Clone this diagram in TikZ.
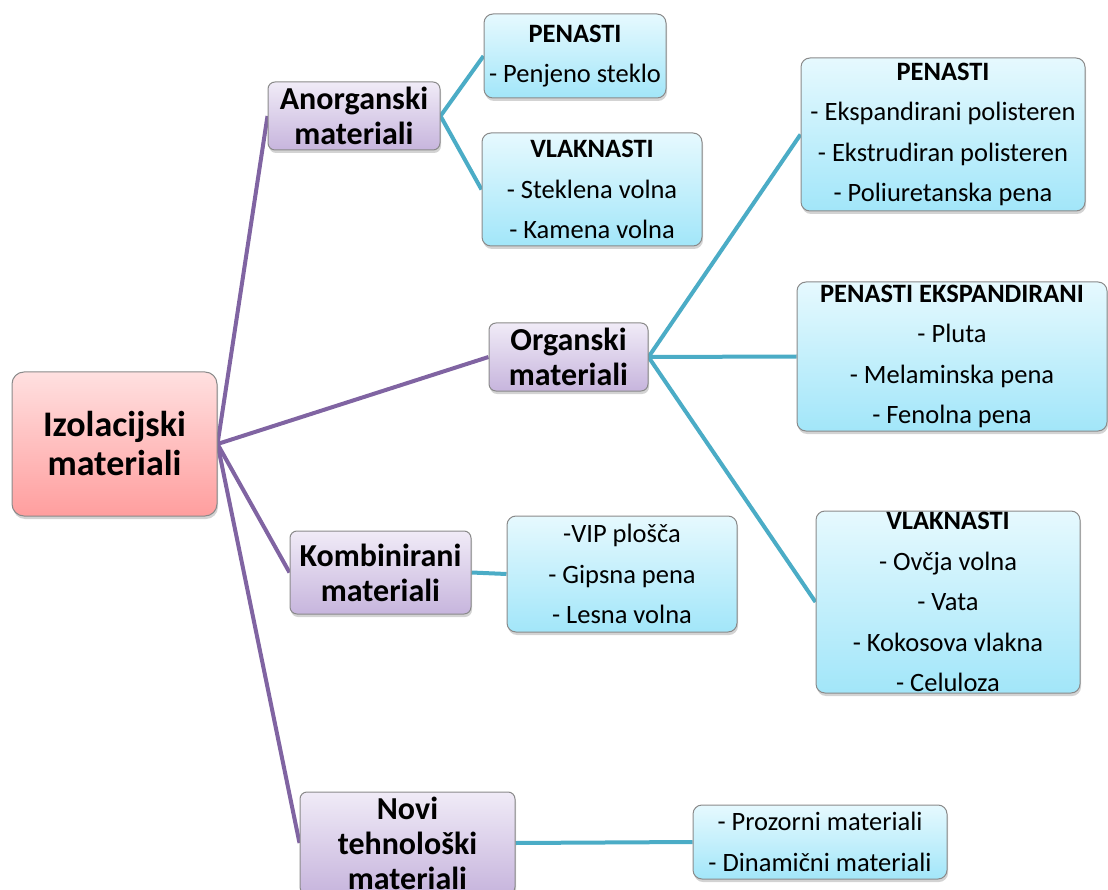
\documentclass[tikz,border=0pt]{standalone}
\usepackage{fontspec}
\setmainfont{Carlito}
\usetikzlibrary{shadows,backgrounds}
\definecolor{edgegray}{HTML}{8A8A8A}
\definecolor{linkpurple}{HTML}{8064A2}
\definecolor{linkteal}{HTML}{4BACC6}
\definecolor{pinktop}{HTML}{FFE0E0}
\definecolor{pinkbot}{HTML}{FF9E9E}
\definecolor{lilactop}{HTML}{F0EBF7}
\definecolor{lilacbot}{HTML}{C7B5DD}
\definecolor{cyantop}{HTML}{E6F9FE}
\definecolor{cyanbot}{HTML}{A2E6F9}
\tikzset{
  rootbox/.style={
    draw=edgegray,
    line width=1pt,
    top color=pinktop,
    bottom color=pinkbot,
    rounded corners=12pt,
    align=center,
    inner sep=0pt,
    font=\fontsize{36}{39}\selectfont\bfseries,
    drop shadow={opacity=0.35, shadow xshift=1pt, shadow yshift=-3pt}
  },
  groupbox/.style={
    draw=edgegray,
    line width=1pt,
    top color=lilactop,
    bottom color=lilacbot,
    rounded corners=7pt,
    align=center,
    inner sep=0pt,
    font=\fontsize{32}{35}\selectfont\bfseries,
    drop shadow={opacity=0.35, shadow xshift=1pt, shadow yshift=-3pt}
  },
  leafbox/.style={
    draw=edgegray,
    line width=1pt,
    top color=cyantop,
    bottom color=cyanbot,
    rounded corners=9pt,
    align=center,
    inner sep=0pt,
    font=\fontsize{26.5}{40.5}\selectfont,
    drop shadow={opacity=0.35, shadow xshift=1pt, shadow yshift=-3pt}
  },
  grouplink/.style={line width=4pt, draw=linkpurple},
  leaflink/.style={line width=4pt, draw=linkteal}
}

\begin{document}
\begin{tikzpicture}[x=1pt, y=-1pt]
\useasboundingbox (0,0) rectangle (1108,890);
\node[rootbox, minimum width=205pt, minimum height=144pt] (root) at (114.5,444) {Izolacijski\\materiali};
\node[groupbox, minimum width=172pt, minimum height=68pt] (anorg) at (354,116) {Anorganski\\materiali};
\node[groupbox, minimum width=159pt, minimum height=68pt] (org) at (568.5,357) {Organski\\materiali};
\node[groupbox, minimum width=181pt, minimum height=83pt] (komb) at (380.5,572.5) {Kombinirani\\materiali};
\node[groupbox, minimum width=215pt, minimum height=102pt] (novi) at (407.5,843) {Novi\\tehnološki\\materiali};

\node[leafbox, minimum width=182pt, minimum height=84pt] (penanorg) at (575,56) {\textbf{PENASTI}\\- Penjeno steklo};
\node[leafbox, minimum width=220pt, minimum height=113pt] (vlaanorg) at (592,189.5) {\textbf{VLAKNASTI}\\- Steklena volna\\- Kamena volna};
\node[leafbox, minimum width=284pt, minimum height=153pt] (penorg) at (943,134.5) {\textbf{PENASTI}\\- Ekspandirani polisteren\\- Ekstrudiran polisteren\\- Poliuretanska pena};
\node[leafbox, minimum width=310pt, minimum height=149pt] (penexp) at (952,356.5) {\textbf{PENASTI EKSPANDIRANI}\\- Pluta\\- Melaminska pena\\- Fenolna pena};
\node[leafbox, minimum width=264pt, minimum height=182pt] (vlaorg) at (948,602) {\textbf{VLAKNASTI}\\- Ovčja volna\\- Vata\\- Kokosova vlakna\\- Celuloza};
\node[leafbox, minimum width=230pt, minimum height=116pt] (kombleaf) at (622,574) {-VIP plošča\\- Gipsna pena\\- Lesna volna};
\node[leafbox, minimum width=254pt, minimum height=74pt] (novileaf) at (820,842) {- Prozorni materiali\\- Dinamični materiali};

\begin{scope}[on background layer]
\draw[grouplink] (root.east) -- (anorg.west);
\draw[grouplink] (root.east) -- (org.west);
\draw[grouplink] (root.east) -- (komb.west);
\draw[grouplink] (root.east) -- (novi.west);
\draw[leaflink] (anorg.east) -- (penanorg.west);
\draw[leaflink] (anorg.east) -- (vlaanorg.west);
\draw[leaflink] (org.east) -- (penorg.west);
\draw[leaflink] (org.east) -- (penexp.west);
\draw[leaflink] (org.east) -- (vlaorg.west);
\draw[leaflink] (komb.east) -- (kombleaf.west);
\draw[leaflink] (novi.east) -- (novileaf.west);
\end{scope}
\end{tikzpicture}
\end{document}
